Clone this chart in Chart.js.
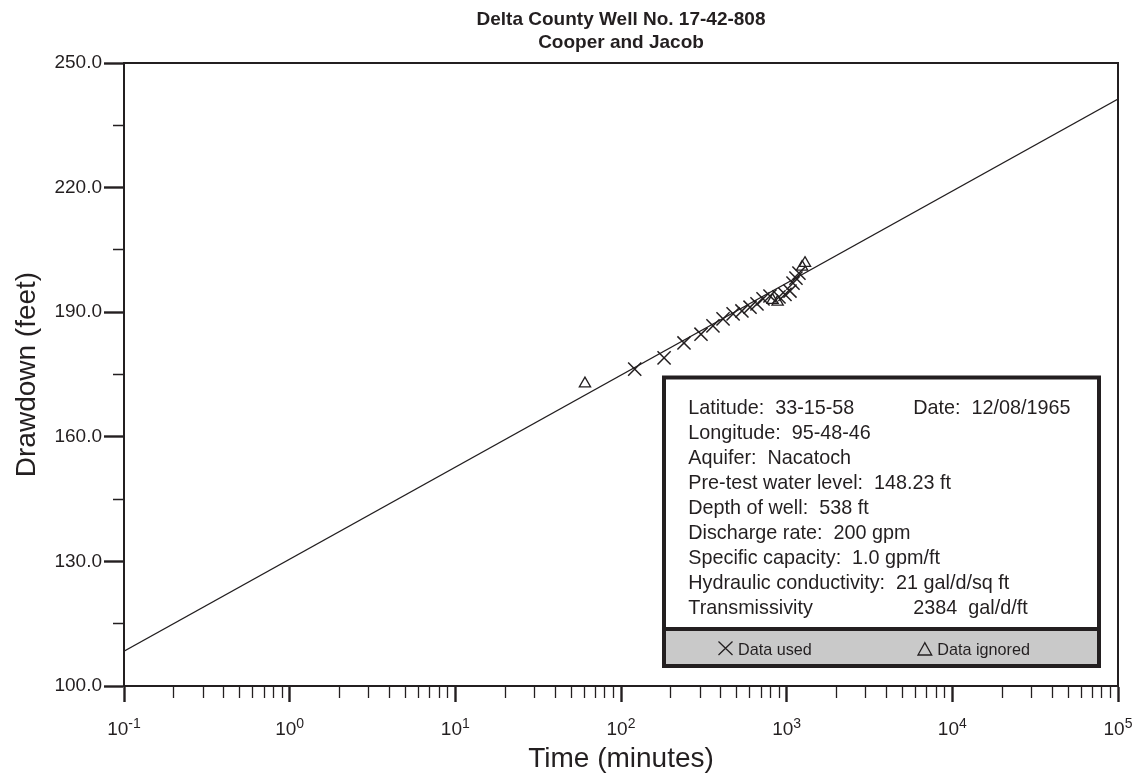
<!DOCTYPE html>
<html>
<head>
<meta charset="utf-8">
<title>Delta County Well No. 17-42-808</title>
<script src="https://cdn.jsdelivr.net/npm/chart.js@4.4.1/dist/chart.umd.min.js"></script>
<style>
  html, body { margin: 0; padding: 0; background: #fff; }
  canvas { display: block; }
</style>
</head>
<body>
<canvas id="drawdown-chart" width="1141" height="778"></canvas>
<script>
// values (time in minutes, drawdown in feet)
const usedTime = [121, 182, 240, 304, 359, 413, 475, 537, 601, 662, 720, 793, 899, 977, 1047, 1092, 1138, 1186];
const usedDrawdown = [176.3, 179.0, 182.6, 184.7, 186.7, 188.4, 189.6, 190.3, 191.2, 192.0, 193.2, 193.9, 193.7, 194.3, 195.1, 197.0, 198.2, 199.4];
const ignoredTime = [60.6, 822, 882, 1239, 1290];
const ignoredDrawdown = [172.8, 192.9, 192.5, 200.9, 201.8];

// Cooper-Jacob straight line fit, end points
const fitTime = [0.1, 100000];
const fitDrawdown = [108.4, 241.3];

// axes
const xDecades = [-1, 0, 1, 2, 3, 4, 5];
const xMinorSteps = [2, 3, 4, 5, 6, 7, 8, 9];
const yTicks = [100, 115, 130, 145, 160, 175, 190, 205, 220, 235, 250];
const yLabelled = [100, 130, 160, 190, 220, 250];

const titleLines = ['Delta County Well No. 17-42-808', 'Cooper and Jacob'];
const infoLeft = [
    'Latitude:  33-15-58',
    'Longitude:  95-48-46',
    'Aquifer:  Nacatoch',
    'Pre-test water level:  148.23 ft',
    'Depth of well:  538 ft',
    'Discharge rate:  200 gpm',
    'Specific capacity:  1.0 gpm/ft',
    'Hydraulic conductivity:  21 gal/d/sq ft',
    'Transmissivity'
];
const infoRight = ['Date:  12/08/1965', '', '', '', '', '', '', '', '2384  gal/d/ft'];

const INK = '#231f20';
const FONT = "'Liberation Sans', Arial, Helvetica, sans-serif";

Chart.defaults.font.family = FONT;
Chart.defaults.color = INK;

let xTickValues = [];
xDecades.forEach((d, i) => {
    xTickValues.push(Math.pow(10, d));
    if (i < xDecades.length - 1) {
        xMinorSteps.forEach(m => xTickValues.push(m * Math.pow(10, d)));
    }
});

function isDecade(v){
    let l = Math.log10(v);
    return Math.abs(l - Math.round(l)) < 1e-9;
}

function toPoints(xs, ys){
    return xs.map((x, i) => ({x: x, y: ys[i]}));
}

const extras = {
    id: 'extras',
    afterDraw(chart){
        let c = chart.ctx;
        let area = chart.chartArea;
        let xs = chart.scales.x;

        c.save();
        // frame top + right
        c.strokeStyle = INK;
        c.lineWidth = 2;
        c.beginPath();
        c.moveTo(area.left, area.top);
        c.lineTo(area.right, area.top);
        c.lineTo(area.right, area.bottom);
        c.stroke();

        // decade labels with superscript
        c.fillStyle = INK;
        c.textBaseline = 'alphabetic';
        c.textAlign = 'left';
        xDecades.forEach(d => {
            let px = xs.getPixelForValue(Math.pow(10, d));
            c.font = '19px ' + FONT;
            let wb = c.measureText('10').width;
            c.font = '14px ' + FONT;
            let exp = String(d);
            let we = c.measureText(exp).width;
            let x0 = px - (wb + we) / 2;
            c.font = '19px ' + FONT;
            c.fillText('10', x0, area.bottom + 49);
            c.font = '14px ' + FONT;
            c.fillText(exp, x0 + wb, area.bottom + 41.5);
        });

        // info box
        let right = area.right - 19;
        let bottom = area.bottom - 20;
        let left = right - 435;
        let top = bottom - 288.5;
        let divider = bottom - 37;
        c.fillStyle = '#ffffff';
        c.fillRect(left, top, right - left, divider - top);
        c.fillStyle = '#c9c9c9';
        c.fillRect(left, divider, right - left, bottom - divider);
        c.lineWidth = 4;
        c.strokeStyle = INK;
        c.strokeRect(left, top, right - left, bottom - top);
        c.beginPath();
        c.moveTo(left, divider);
        c.lineTo(right, divider);
        c.stroke();

        c.fillStyle = INK;
        c.font = '19.8px ' + FONT;
        infoLeft.forEach((t, i) => {
            c.fillText(t, left + 24.3, top + 36.5 + i * 25);
            if (infoRight[i]) c.fillText(infoRight[i], left + 249.3, top + 36.5 + i * 25);
        });

        // legend row
        let ly = divider + 26;
        c.lineWidth = 1.3;
        c.beginPath();
        c.moveTo(left + 54.5, ly - 13.5);
        c.lineTo(left + 68.5, ly);
        c.moveTo(left + 68.5, ly - 13.5);
        c.lineTo(left + 54.5, ly);
        c.stroke();
        c.beginPath();
        c.moveTo(left + 260.8, ly - 12.3);
        c.lineTo(left + 254, ly);
        c.lineTo(left + 267.7, ly);
        c.closePath();
        c.stroke();
        c.font = '16.2px ' + FONT;
        c.fillText('Data used', left + 74, ly);
        c.fillText('Data ignored', left + 273.3, ly);
        c.restore();
    }
};

let ctx = document.getElementById('drawdown-chart').getContext('2d');

let chart = new Chart(ctx, {
    type: 'scatter',
    data: {
        datasets: [{
            label: 'Fit',
            data: toPoints(fitTime, fitDrawdown),
            showLine: true,
            borderColor: INK,
            borderWidth: 1.2,
            pointRadius: 0
        }, {
            label: 'Data used',
            data: toPoints(usedTime, usedDrawdown),
            pointStyle: 'crossRot',
            pointRadius: 9.3,
            borderColor: INK,
            backgroundColor: INK,
            borderWidth: 1.5
        }, {
            label: 'Data ignored',
            data: toPoints(ignoredTime, ignoredDrawdown),
            pointStyle: 'triangle',
            pointRadius: 6.5,
            borderColor: INK,
            backgroundColor: 'rgba(0,0,0,0)',
            borderWidth: 1.3
        }]
    },
    options: {
        responsive: false,
        animation: false,
        devicePixelRatio: 1,
        layout: { padding: { top: 0, right: 23, bottom: 0, left: 0 } },
        plugins: {
            legend: { display: false },
            tooltip: { enabled: false },
            title: {
                display: true,
                text: titleLines,
                fullSize: false,
                color: INK,
                font: { size: 19, weight: 'bold', lineHeight: 1.174 },
                padding: { top: 9, bottom: 9.4 }
            }
        },
        scales: {
            x: {
                type: 'logarithmic',
                min: 0.1,
                max: 100000,
                afterBuildTicks: (scale) => {
                    scale.ticks = xTickValues.map(v => ({ value: v, major: isDecade(v) }));
                },
                afterFit: (scale) => { scale.height = 92; },
                ticks: { display: false, autoSkip: false },
                border: { display: true, color: INK, width: 2 },
                grid: {
                    drawOnChartArea: false,
                    drawTicks: true,
                    tickLength: 16,
                    tickColor: INK,
                    tickWidth: (c) => (c.tick && isDecade(c.tick.value)) ? 2.4 : 1.3,
                    tickBorderDash: (c) => (c.tick && !isDecade(c.tick.value)) ? [11, 40] : []
                },
                title: {
                    display: true,
                    text: 'Time (minutes)',
                    color: INK,
                    font: { size: 28 },
                    padding: { top: 0, bottom: 2 }
                }
            },
            y: {
                type: 'linear',
                min: 100,
                max: 250,
                afterBuildTicks: (scale) => {
                    scale.ticks = yTicks.map(v => ({ value: v }));
                },
                afterFit: (scale) => { scale.width = 124; },
                ticks: {
                    color: INK,
                    font: { size: 19 },
                    padding: 2,
                    autoSkip: false,
                    callback: (v) => yLabelled.includes(v) ? v.toFixed(1) : ''
                },
                border: { display: true, color: INK, width: 2 },
                grid: {
                    drawOnChartArea: false,
                    drawTicks: true,
                    tickLength: 20,
                    tickColor: INK,
                    tickWidth: (c) => (c.tick && yLabelled.includes(c.tick.value)) ? 2.4 : 1.3,
                    tickBorderDash: (c) => (c.tick && !yLabelled.includes(c.tick.value)) ? [0, 9, 10, 40] : []
                },
                title: {
                    display: true,
                    text: 'Drawdown (feet)',
                    color: INK,
                    font: { size: 28 },
                    padding: { top: 10.5, bottom: 0 }
                }
            }
        }
    },
    plugins: [extras]
});
</script>
</body>
</html>
